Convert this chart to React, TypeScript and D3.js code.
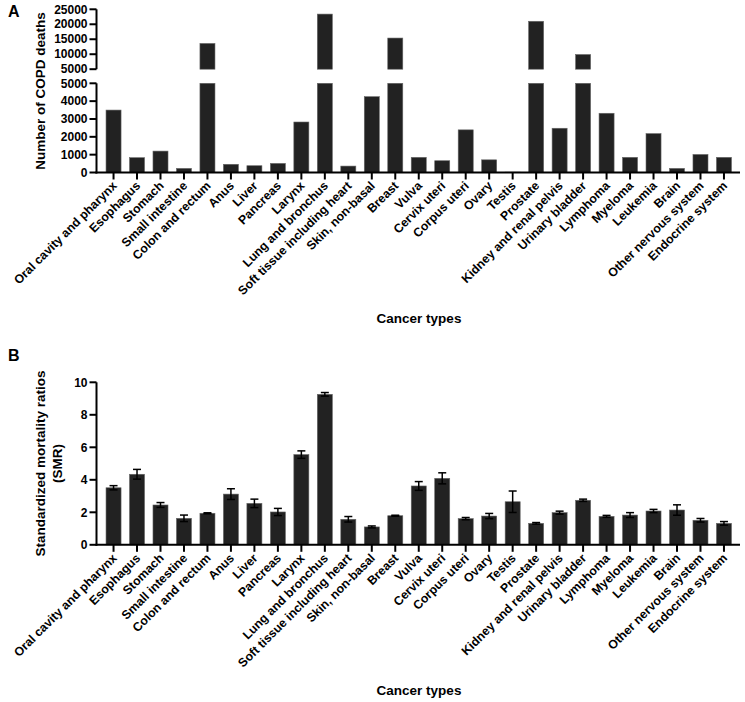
import React from "react";
import * as d3 from "d3";

const categories = [
  "Oral cavity and pharynx", "Esophagus", "Stomach", "Small intestine", "Colon and rectum",
  "Anus", "Liver", "Pancreas", "Larynx", "Lung and bronchus", "Soft tissue including heart",
  "Skin, non-basal", "Breast", "Vulva", "Cervix uteri", "Corpus uteri", "Ovary", "Testis",
  "Prostate", "Kidney and renal pelvis", "Urinary bladder", "Lymphoma", "Myeloma", "Leukemia",
  "Brain", "Other nervous system", "Endocrine system",
];

const copdDeaths = [
  3500, 830, 1200, 230, 13600, 460, 380, 510, 2830, 23400, 360, 4250, 15400, 850, 660,
  2390, 710, 20, 21000, 2480, 9900, 3320, 850, 2180, 230, 1010, 850,
];

const smr = [
  3.51, 4.34, 2.45, 1.63, 1.94, 3.12, 2.55, 2.02, 5.55, 9.26, 1.57, 1.1, 1.79, 3.62, 4.09,
  1.61, 1.77, 2.65, 1.32, 1.98, 2.74, 1.75, 1.83, 2.08, 2.14, 1.51, 1.32,
];

const smrErr = [
  0.13, 0.3, 0.15, 0.2, 0.03, 0.33, 0.26, 0.22, 0.23, 0.11, 0.17, 0.06, 0.03, 0.27, 0.34,
  0.07, 0.16, 0.66, 0.05, 0.09, 0.07, 0.06, 0.15, 0.1, 0.32, 0.11, 0.11,
];

const lowerTicks = [0, 1000, 2000, 3000, 4000, 5000];
const upperTicks = [5000, 10000, 15000, 20000, 25000];
const smrTicks = [0, 2, 4, 6, 8, 10];

const FONT = "Arial, 'Liberation Sans', sans-serif";
const BAR = "#222222";

const x = d3.scaleBand<string>().domain(categories).range([101.8, 735.7]).paddingInner(0.36).paddingOuter(0.18);

const AXIS_X = 96.5;
const AXIS_END = 740;

const yLow = d3.scaleLinear().domain([0, 5000]).range([172.5, 83.3]);
const yUp = d3.scaleLinear().domain([5000, 25000]).range([69.2, 9.3]);
const yS = d3.scaleLinear().domain([0, 10]).range([544.8, 382.3]);

function XLabels({ axisY }: { axisY: number }) {
  return (
    <g>
      {categories.map((c) => {
        const cx = (x(c) as number) + x.bandwidth() / 2;
        return (
          <g key={c}>
            <line x1={cx} x2={cx} y1={axisY} y2={axisY + 7} stroke="#000" strokeWidth={2} />
            <text
              transform={`translate(${cx + 4},${axisY + 14}) rotate(-45)`}
              textAnchor="end"
              fontSize={12.3}
              fontWeight="bold"
              fontFamily={FONT}
            >
              {c}
            </text>
          </g>
        );
      })}
      <line x1={AXIS_X - 1} x2={AXIS_END} y1={axisY} y2={axisY} stroke="#000" strokeWidth={2} />
    </g>
  );
}

function PanelA() {
  const axisY = yLow(0);
  return (
    <g>
      <text x={8} y={17} fontSize={16} fontWeight="bold" fontFamily={FONT}>A</text>
      {categories.map((c, i) => {
        const v = copdDeaths[i];
        const bx = x(c) as number;
        const w = x.bandwidth();
        const low = Math.min(v, 5000);
        return (
          <g key={c}>
            <rect x={bx} y={yLow(low)} width={w} height={yLow(0) - yLow(low)} fill={BAR} stroke="#666" strokeWidth={0.6} />
            {v > 5000 && (
              <rect x={bx} y={yUp(v)} width={w} height={yUp(5000) - yUp(v)} fill={BAR} stroke="#666" strokeWidth={0.6} />
            )}
          </g>
        );
      })}
      <line x1={AXIS_X} x2={AXIS_X} y1={yLow(5000)} y2={axisY + 1} stroke="#000" strokeWidth={2} />
      {lowerTicks.map((t) => (
        <g key={"l" + t}>
          <line x1={AXIS_X - 7} x2={AXIS_X} y1={yLow(t)} y2={yLow(t)} stroke="#000" strokeWidth={2} />
          <text x={AXIS_X - 9} y={yLow(t)} dy="0.35em" textAnchor="end" fontSize={12} fontWeight="bold" fontFamily={FONT}>
            {t}
          </text>
        </g>
      ))}
      <line x1={AXIS_X} x2={AXIS_X} y1={yUp(25000)} y2={yUp(5000)} stroke="#000" strokeWidth={2} />
      {upperTicks.map((t) => (
        <g key={"u" + t}>
          <line x1={AXIS_X - 7} x2={AXIS_X} y1={yUp(t)} y2={yUp(t)} stroke="#000" strokeWidth={2} />
          <text x={AXIS_X - 9} y={yUp(t)} dy="0.35em" textAnchor="end" fontSize={12} fontWeight="bold" fontFamily={FONT}>
            {t}
          </text>
        </g>
      ))}
      <XLabels axisY={axisY} />
      <text
        transform={`translate(45,${(yUp(25000) + yLow(0)) / 2}) rotate(-90)`}
        textAnchor="middle"
        fontSize={13.5}
        fontWeight="bold"
        fontFamily={FONT}
      >
        Number of COPD deaths
      </text>
      <text x={419} y={323} textAnchor="middle" fontSize={13.5} fontWeight="bold" fontFamily={FONT}>
        Cancer types
      </text>
    </g>
  );
}

function PanelB() {
  const axisY = yS(0);
  return (
    <g>
      <text x={8} y={361} fontSize={16} fontWeight="bold" fontFamily={FONT}>B</text>
      {categories.map((c, i) => {
        const v = smr[i];
        const e = smrErr[i];
        const bx = x(c) as number;
        const w = x.bandwidth();
        const cx = bx + w / 2;
        return (
          <g key={c}>
            <rect x={bx} y={yS(v)} width={w} height={yS(0) - yS(v)} fill={BAR} stroke="#666" strokeWidth={0.6} />
            <line x1={cx} x2={cx} y1={yS(v + e)} y2={yS(v - e)} stroke="#000" strokeWidth={1.5} />
            <line x1={cx - 4} x2={cx + 4} y1={yS(v + e)} y2={yS(v + e)} stroke="#000" strokeWidth={1.5} />
            <line x1={cx - 4} x2={cx + 4} y1={yS(v - e)} y2={yS(v - e)} stroke="#000" strokeWidth={1.5} />
          </g>
        );
      })}
      <line x1={AXIS_X} x2={AXIS_X} y1={yS(10)} y2={axisY + 1} stroke="#000" strokeWidth={2} />
      {smrTicks.map((t) => (
        <g key={"s" + t}>
          <line x1={AXIS_X - 7} x2={AXIS_X} y1={yS(t)} y2={yS(t)} stroke="#000" strokeWidth={2} />
          <text x={AXIS_X - 9} y={yS(t)} dy="0.35em" textAnchor="end" fontSize={12} fontWeight="bold" fontFamily={FONT}>
            {t}
          </text>
        </g>
      ))}
      <XLabels axisY={axisY} />
      <text
        transform={`translate(45,${(yS(10) + yS(0)) / 2}) rotate(-90)`}
        textAnchor="middle"
        fontSize={13.5}
        fontWeight="bold"
        fontFamily={FONT}
      >
        Standardized mortality ratios
      </text>
      <text
        transform={`translate(62,${(yS(10) + yS(0)) / 2}) rotate(-90)`}
        textAnchor="middle"
        fontSize={13.5}
        fontWeight="bold"
        fontFamily={FONT}
      >
        (SMR)
      </text>
      <text x={419} y={695} textAnchor="middle" fontSize={13.5} fontWeight="bold" fontFamily={FONT}>
        Cancer types
      </text>
    </g>
  );
}

export default function App() {
  return (
    <svg
      width={745}
      height={702}
      style={{ position: "absolute", left: 0, top: 0, background: "#fff" }}
    >
      <rect width={745} height={702} fill="#fff" />
      <PanelA />
      <PanelB />
    </svg>
  );
}
